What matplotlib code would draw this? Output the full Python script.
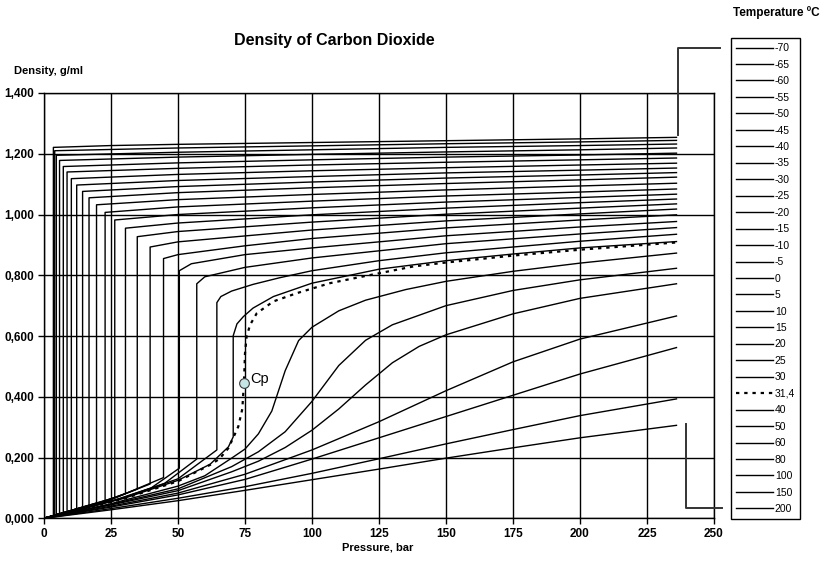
import matplotlib
matplotlib.use("Agg")
import matplotlib.pyplot as plt
from matplotlib.lines import Line2D
from matplotlib.ticker import FixedLocator, FuncFormatter

plt.rcParams['font.family'] = ['Liberation Sans', 'DejaVu Sans']

# isotherms of CO2: (pressure bar, density g/ml); gas branch, then liquid branch
t_m70 = [(0, 0), (3.5, 0.008), (3.5, 1.221), (25, 1.227), (50, 1.231), (100, 1.237), (150, 1.243), (200, 1.249), (236, 1.254)]
t_m65 = [(0, 0), (4.0, 0.010), (4.0, 1.210), (50, 1.219), (100, 1.226), (150, 1.233), (200, 1.239), (236, 1.244)]
t_m60 = [(0, 0), (4.6, 0.012), (4.6, 1.195), (50, 1.205), (100, 1.213), (150, 1.221), (200, 1.227), (236, 1.232)]
t_m55 = [(0, 0), (5.8, 0.015), (5.8, 1.178), (50, 1.189), (100, 1.198), (150, 1.206), (200, 1.213), (236, 1.219)]
t_m50 = [(0, 0), (7.2, 0.018), (7.2, 1.158), (50, 1.170), (100, 1.180), (150, 1.189), (200, 1.196), (236, 1.202)]
t_m45 = [(0, 0), (8.6, 0.021), (8.6, 1.140), (50, 1.152), (100, 1.163), (150, 1.172), (200, 1.180), (236, 1.186)]
t_m40 = [(0, 0), (10.2, 0.025), (10.2, 1.118), (50, 1.132), (100, 1.144), (150, 1.154), (200, 1.163), (236, 1.169)]
t_m35 = [(0, 0), (12.2, 0.030), (12.2, 1.097), (50, 1.112), (100, 1.125), (150, 1.137), (200, 1.146), (236, 1.153)]
t_m30 = [(0, 0), (14.4, 0.036), (14.4, 1.076), (50, 1.092), (100, 1.107), (150, 1.120), (200, 1.130), (236, 1.138)]
t_m25 = [(0, 0), (16.8, 0.042), (16.8, 1.055), (50, 1.072), (100, 1.088), (150, 1.102), (200, 1.114), (236, 1.123)]
t_m20 = [(0, 0), (19.6, 0.050), (19.6, 1.032), (50, 1.049), (100, 1.066), (150, 1.081), (200, 1.094), (236, 1.103)]
t_m15 = [(0, 0), (22.8, 0.058), (22.8, 1.007), (50, 1.025), (100, 1.044), (150, 1.061), (200, 1.074), (236, 1.084)]
t_m10 = [(0, 0), (26.4, 0.068), (26.4, 0.982), (50, 1.000), (100, 1.022), (150, 1.041), (200, 1.056), (236, 1.067)]
t_m5 = [(0, 0), (15, 0.034), (30.4, 0.081), (30.4, 0.955), (50, 0.972), (100, 0.999), (150, 1.021), (200, 1.039), (236, 1.051)]
t_0 = [(0, 0), (17, 0.038), (34.8, 0.096), (34.8, 0.927), (50, 0.944), (100, 0.975), (150, 1.001), (200, 1.021), (236, 1.035)]
t_5 = [(0, 0), (20, 0.045), (39.6, 0.113), (39.6, 0.893), (50, 0.910), (100, 0.949), (150, 0.979), (200, 1.002), (236, 1.018)]
t_10 = [(0, 0), (22, 0.050), (44.6, 0.134), (44.6, 0.855), (50, 0.868), (75, 0.897), (100, 0.921), (150, 0.956), (200, 0.982), (236, 0.999)]
t_15 = [(0, 0), (25, 0.056), (40, 0.100), (50.5, 0.165), (50.5, 0.815), (55, 0.838), (75, 0.868), (100, 0.890), (150, 0.930), (200, 0.959), (236, 0.977)]
t_20 = [(0, 0), (28, 0.063), (45, 0.115), (57.0, 0.195), (57.0, 0.772), (60, 0.795), (75, 0.826), (100, 0.857), (150, 0.904), (200, 0.936), (236, 0.957)]
t_25 = [(0, 0), (30, 0.068), (50, 0.130), (64.5, 0.225), (64.5, 0.710), (66, 0.730), (70, 0.748), (78, 0.770), (88, 0.792), (100, 0.815), (125, 0.848), (150, 0.874), (200, 0.912), (236, 0.935)]
t_30 = [(0, 0), (30, 0.066), (50, 0.125), (62, 0.178), (68.8, 0.235), (70.6, 0.268), (70.6, 0.601), (72, 0.640), (74.4, 0.664), (78, 0.692), (85.6, 0.730), (100, 0.774), (125, 0.820), (150, 0.848), (175, 0.870), (200, 0.890), (236, 0.911)]
t_314 = [(0, 0), (30, 0.065), (50, 0.122), (62, 0.176), (65.4, 0.195), (68.8, 0.231), (70.6, 0.265), (72.5, 0.302), (74.0, 0.360), (74.6, 0.445), (75.0, 0.543), (75.6, 0.598), (76.9, 0.637), (79.4, 0.675), (85.6, 0.714), (94.3, 0.741), (106.7, 0.774), (119, 0.796), (137.8, 0.829), (150, 0.842), (176.4, 0.866), (201.2, 0.885), (236, 0.908)]
t_40 = [(0, 0), (25, 0.048), (50, 0.106), (60, 0.140), (70, 0.198), (75, 0.228), (80, 0.278), (85, 0.353), (90, 0.486), (95, 0.585), (100, 0.629), (110, 0.683), (120, 0.718), (135, 0.753), (150, 0.780), (175, 0.813), (200, 0.840), (236, 0.873)]
t_50 = [(0, 0), (25, 0.046), (50, 0.097), (70, 0.170), (80, 0.219), (90, 0.285), (100, 0.385), (110, 0.503), (120, 0.586), (130, 0.637), (150, 0.700), (175, 0.750), (200, 0.785), (236, 0.823)]
t_60 = [(0, 0), (25, 0.044), (50, 0.091), (70, 0.153), (80, 0.188), (90, 0.233), (100, 0.290), (110, 0.360), (120, 0.439), (130, 0.512), (140, 0.566), (150, 0.604), (175, 0.673), (200, 0.724), (236, 0.772)]
t_80 = [(0, 0), (25, 0.040), (50, 0.083), (75, 0.145), (100, 0.225), (125, 0.318), (150, 0.420), (175, 0.515), (200, 0.590), (236, 0.666)]
t_100 = [(0, 0), (25, 0.037), (50, 0.077), (75, 0.128), (100, 0.195), (125, 0.265), (150, 0.335), (175, 0.405), (200, 0.475), (236, 0.562)]
t_150 = [(0, 0), (25, 0.032), (50, 0.066), (75, 0.104), (100, 0.148), (125, 0.196), (150, 0.245), (175, 0.292), (200, 0.338), (236, 0.393)]
t_200 = [(0, 0), (25, 0.028), (50, 0.058), (75, 0.092), (100, 0.127), (125, 0.162), (150, 0.198), (175, 0.232), (200, 0.265), (236, 0.306)]

labels = ["-70", "-65", "-60", "-55", "-50", "-45", "-40", "-35", "-30", "-25", "-20",
          "-15", "-10", "-5", "0", "5", "10", "15", "20", "25", "30", "31,4",
          "40", "50", "60", "80", "100", "150", "200"]
curves = [t_m70, t_m65, t_m60, t_m55, t_m50, t_m45, t_m40, t_m35, t_m30, t_m25, t_m20,
          t_m15, t_m10, t_m5, t_0, t_5, t_10, t_15, t_20, t_25, t_30, t_314,
          t_40, t_50, t_60, t_80, t_100, t_150, t_200]

crit_p, crit_rho = 74.6, 0.445

fig = plt.figure(figsize=(8.24, 5.63), dpi=100)
ax = fig.add_axes([44 / 824, 1 - 518.3 / 563, 670 / 824, 425.3 / 563])

for lab, pts in zip(labels, curves):
    p = [a for a, b in pts]
    d = [b for a, b in pts]
    if lab == "31,4":
        ax.plot(p, d, color="black", lw=1.6, ls=(0, (1.5, 2.2)), label=lab, zorder=3)
    else:
        ax.plot(p, d, color="black", lw=1.0, label=lab, zorder=3)

ax.plot([crit_p], [crit_rho], "o", ms=7, mfc="#c6e6e6", mec="#3a3a3a", mew=0.8, zorder=5)
ax.text(crit_p + 2.5, crit_rho + 0.014, "Cp", fontsize=10.5, va="center", zorder=5)

ax.set_xlim(0, 250)
ax.set_ylim(0, 1.4)
ax.xaxis.set_major_locator(FixedLocator(range(0, 251, 25)))
ax.yaxis.set_major_locator(FixedLocator([i * 0.2 for i in range(8)]))
ax.yaxis.set_major_formatter(FuncFormatter(lambda v, pos: f"{v:.3f}".replace(".", ",")))
ax.grid(True, color="black", lw=1.0)
ax.set_axisbelow(True)
for s in ax.spines.values():
    s.set_color("black")
    s.set_linewidth(1.0)
ax.tick_params(direction="out", length=4, width=1, labelsize=8.5, pad=3)
for t in ax.get_xticklabels() + ax.get_yticklabels():
    t.set_fontweight("bold")

fig.text(334 / 824, 1 - 40 / 563, "Density of Carbon Dioxide", ha="center", va="center",
         fontsize=11.5, fontweight="bold")
fig.text(14 / 824, 1 - 71 / 563, "Density, g/ml", ha="left", va="center", fontsize=8, fontweight="bold")
fig.text(378 / 824, 1 - 547 / 563, "Pressure, bar", ha="center", va="center", fontsize=8, fontweight="bold")
fig.text(776 / 824, 1 - 13 / 563, "Temperature ºC", ha="center", va="center", fontsize=8.5, fontweight="bold")

leg = ax.legend(loc="upper left", bbox_to_anchor=(731 / 824, 1 - 38 / 563), bbox_transform=fig.transFigure,
                fontsize=7.5, frameon=True, fancybox=False, edgecolor="black", framealpha=1,
                handlelength=3.5, handletextpad=0.2, labelspacing=0.62, borderpad=0.5, borderaxespad=0)
leg.get_frame().set_linewidth(1.0)

# bracket strokes beside the legend
fig.add_artist(Line2D([678 / 824, 678 / 824, 720 / 824], [1 - 135 / 563, 1 - 48 / 563, 1 - 48 / 563],
                      color="#333333", lw=1.4))
fig.add_artist(Line2D([686 / 824, 686 / 824, 722 / 824], [1 - 424 / 563, 1 - 508 / 563, 1 - 508 / 563],
                      color="#333333", lw=1.4))

fig.savefig("out.png", dpi=100)
